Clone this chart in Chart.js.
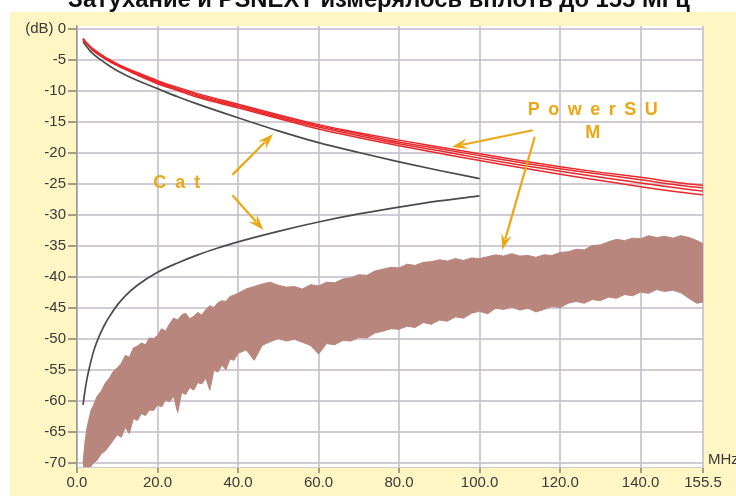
<!DOCTYPE html>
<html><head><meta charset="utf-8">
<script src="https://cdn.jsdelivr.net/npm/chart.js@4.4.1/dist/chart.umd.min.js"></script>
<style>html,body{margin:0;padding:0;background:#fff;overflow:hidden}#wrap{position:relative;width:736px;height:496px}</style>
</head><body><div id="wrap"><canvas id="c" width="736" height="496"></canvas></div>
<script>
const titleText = 'Затухание и PSNEXT измерялось вплоть до 155 МГц';
const xUnit = 'MHz';
const xTicks = [0, 20, 40, 60, 80, 100, 120, 140, 155.5];
const yTicks = [0, -5, -10, -15, -20, -25, -30, -35, -40, -45, -50, -55, -60, -65, -70];

// PowerSUM attenuation (4 pairs)
const redFreq = [1.5, 2, 3, 4, 6, 8, 10, 15, 20, 25, 30, 40, 50, 60, 70, 80, 90, 100, 110, 120, 130, 140, 150, 155.5];
const redA = [-1.5, -1.9, -2.6, -3.2, -4.1, -4.9, -5.6, -7.0, -8.3, -9.4, -10.4, -12.1, -13.8, -15.4, -16.7, -17.9, -19.0, -20.1, -21.2, -22.2, -23.1, -23.9, -24.8, -25.2];
const redB = [-1.6, -2.0, -2.7, -3.3, -4.2, -5.0, -5.7, -7.2, -8.5, -9.6, -10.6, -12.3, -14.0, -15.6, -16.9, -18.2, -19.3, -20.4, -21.5, -22.5, -23.4, -24.3, -25.2, -25.6];
const redC = [-1.6, -2.0, -2.7, -3.4, -4.3, -5.1, -5.8, -7.3, -8.6, -9.7, -10.8, -12.5, -14.2, -15.8, -17.2, -18.5, -19.6, -20.8, -21.9, -22.9, -23.9, -24.8, -25.7, -26.1];
const redD = [-1.7, -2.1, -2.8, -3.5, -4.4, -5.2, -5.9, -7.4, -8.8, -9.9, -11.0, -12.7, -14.4, -16.1, -17.5, -18.8, -20.0, -21.2, -22.3, -23.4, -24.4, -25.4, -26.3, -26.7];

// Cat limits
const catAttFreq = [1.5, 2, 3, 4, 6, 8, 10, 15, 20, 25, 30, 40, 50, 60, 70, 80, 90, 100];
const catAtt = [-2.0, -2.5, -3.3, -4.0, -5.0, -5.9, -6.7, -8.3, -9.6, -10.9, -12.1, -14.3, -16.4, -18.3, -19.9, -21.4, -22.8, -24.1];
const catNextFreq = [1.5, 2, 2.5, 3, 4, 5, 6, 7, 8, 10, 12, 15, 20, 25, 30, 35, 40, 50, 60, 70, 80, 90, 100];
const catNext = [-60.6, -58.2, -56.3, -54.8, -52.2, -50.3, -48.8, -47.5, -46.4, -44.5, -43.0, -41.3, -39.2, -37.7, -36.4, -35.3, -34.3, -32.6, -31.1, -29.8, -28.7, -27.7, -26.9];

// PowerSUM NEXT measurement band (upper / lower envelope)
const bandFreq = [1.5, 2, 2.5, 3, 3.5, 4, 5, 6, 7, 8, 9, 10, 11, 12, 13, 14, 15, 16, 17, 18, 19, 20, 21, 22, 23, 24, 25, 26, 27, 28, 29, 30, 31, 32, 33, 34, 35, 36, 37, 38, 39, 40, 42, 44, 46, 48, 50, 52, 54, 56, 58, 60, 62, 64, 66, 68, 70, 72, 74, 76, 78, 80, 82, 84, 86, 88, 90, 92, 94, 96, 98, 100, 102, 104, 106, 108, 110, 112, 114, 116, 118, 120, 122, 124, 126, 128, 130, 132, 134, 136, 138, 140, 142, 144, 146, 148, 150, 152, 154, 155.5];
const bandUpper = [-70, -66.5, -64.2, -62.8, -61.4, -60.8, -59.2, -58.4, -57.1, -56.3, -55.2, -54.6, -53.9, -52.6, -52.9, -51.4, -51.1, -50.6, -50.9, -49.8, -49.9, -49.4, -48.3, -48.7, -47.5, -46.6, -46.9, -46.1, -45.8, -46.7, -46.3, -45.7, -46.1, -45.2, -44.6, -44.9, -44.1, -43.8, -43.9, -43.1, -42.9, -42.6, -41.9, -41.5, -41.1, -40.8, -41.3, -41.6, -41.5, -41.9, -41.2, -41.4, -40.8, -40.9, -40.3, -40.1, -39.6, -39.7, -39.0, -38.7, -38.4, -38.5, -37.9, -38.1, -37.6, -37.5, -37.2, -37.4, -37.0, -37.3, -36.9, -37.0, -36.7, -36.4, -36.6, -36.2, -36.6, -36.5, -36.8, -36.4, -36.5, -36.0, -35.9, -35.5, -35.6, -34.9, -34.8, -34.3, -33.9, -34.1, -33.7, -33.8, -33.3, -33.6, -33.4, -33.7, -33.3, -33.6, -34.1, -34.6];
const bandLower = [-71, -71, -71, -71, -70.5, -70, -69.5, -68.5, -68, -67.2, -66.3, -65.4, -65.8, -64.2, -65.2, -62.8, -63.1, -62.0, -62.3, -61.4, -61.5, -60.6, -60.9, -59.8, -60.1, -59.2, -61.8, -58.6, -58.9, -57.8, -58.2, -57.0, -57.2, -56.3, -58.2, -55.0, -55.3, -54.2, -54.9, -53.2, -53.4, -52.3, -51.7, -53.4, -51.0, -50.4, -49.9, -50.3, -50.0, -50.5, -51.0, -52.4, -50.7, -50.9, -50.2, -50.3, -49.7, -49.8, -49.0, -48.7, -48.3, -48.4, -47.9, -48.1, -47.3, -47.6, -46.9, -47.1, -46.4, -46.6, -45.8, -45.5, -45.9, -45.0, -45.2, -44.8, -45.3, -45.0, -45.6, -45.2, -44.7, -44.9, -44.2, -43.9, -44.2, -43.6, -43.8, -43.2, -43.4, -42.8, -43.0, -42.4, -42.6, -42.0, -42.3, -42.1, -42.5, -43.4, -44.2, -44.0];

// annotation anchors in data units [MHz, dB]
const labelPower = ['PowerSU', 'M'];
const labelPowerPos = [[128.1, -13.1], [128.1, -16.8]];
const labelCat = 'Cat';
const labelCatPos = [24.8, -24.8];
const arrows = [
  [[113.2, -16.3], [93.1, -19.0]],
  [[113.7, -17.4], [105.6, -35.6]],
  [[38.6, -23.5], [48.7, -16.9]],
  [[38.6, -26.8], [46.3, -32.4]]
];

const toPts = (xs, ys) => xs.map((x, i) => ({x: x, y: ys[i]}));
const RED = '#e8282b';
const GRAY = '#4b4b4b';
const BROWN = 'rgb(184,134,124)';
const ORANGE = '#eba814';
const YELLOW = '#fff6c4';
const TICKFONT = {family: "'Liberation Sans', Arial, sans-serif", size: 15};

function redSet(ys) {
  return {data: toPts(redFreq, ys), borderColor: RED, borderWidth: 1.5, pointRadius: 0, cubicInterpolationMode: 'monotone', fill: false};
}

const datasets = [
  redSet(redA), redSet(redB), redSet(redC), redSet(redD),
  {data: toPts(catAttFreq, catAtt), borderColor: GRAY, borderWidth: 1.7, pointRadius: 0, cubicInterpolationMode: 'monotone', fill: false},
  {data: toPts(catNextFreq, catNext), borderColor: GRAY, borderWidth: 1.7, pointRadius: 0, cubicInterpolationMode: 'monotone', fill: false},
  {data: toPts(bandFreq, bandUpper), borderColor: BROWN, borderWidth: 1, pointRadius: 0, tension: 0, fill: false},
  {data: toPts(bandFreq, bandLower), borderColor: BROWN, borderWidth: 1, pointRadius: 0, tension: 0, fill: {target: '-1'}, backgroundColor: BROWN}
];

function spacedText(ctx, text, cx, cy, spacing) {
  let w = 0; const ws = [];
  for (const ch of text) { const m = ctx.measureText(ch).width; ws.push(m); w += m; }
  w += spacing * (ws.length - 1);
  let x = cx - w / 2; let i = 0;
  ctx.textAlign = 'left';
  for (const ch of text) { ctx.fillText(ch, x, cy); x += ws[i++] + spacing; }
}
function drawArrow(ctx, x1, y1, x2, y2) {
  const a = Math.atan2(y2 - y1, x2 - x1);
  const L = 14, H = 5.5;
  const bx = x2 - L * Math.cos(a), by = y2 - L * Math.sin(a);
  ctx.beginPath(); ctx.moveTo(x1, y1); ctx.lineTo(bx + 3 * Math.cos(a), by + 3 * Math.sin(a)); ctx.stroke();
  ctx.beginPath();
  ctx.moveTo(x2, y2);
  ctx.lineTo(bx - H * Math.sin(a) - 2 * Math.cos(a), by + H * Math.cos(a) - 2 * Math.sin(a));
  ctx.lineTo(bx + 4 * Math.cos(a), by + 4 * Math.sin(a));
  ctx.lineTo(bx + H * Math.sin(a) - 2 * Math.cos(a), by - H * Math.cos(a) - 2 * Math.sin(a));
  ctx.closePath(); ctx.fill();
}

const decor = {
  id: 'decor',
  beforeDraw(chart) {
    const ctx = chart.ctx, ca = chart.chartArea;
    ctx.save();
    ctx.fillStyle = '#ffffff'; ctx.fillRect(0, 0, chart.width, chart.height);
    ctx.fillStyle = YELLOW; ctx.fillRect(10, 12, chart.width - 10, chart.height - 12);
    ctx.fillStyle = '#ffffff'; ctx.fillRect(ca.left, ca.top, ca.right - ca.left, ca.bottom - ca.top);
    ctx.restore();
  },
  afterDraw(chart) {
    const ctx = chart.ctx, ca = chart.chartArea;
    const xs = chart.scales.x, ys = chart.scales.y;
    const px = v => xs.getPixelForValue(v), py = v => ys.getPixelForValue(v);
    ctx.save();
    // title (top is cut off by the frame)
    ctx.fillStyle = '#111';
    let fs = 19;
    ctx.font = 'bold ' + fs + "px 'Liberation Sans', Arial, sans-serif";
    const tw = ctx.measureText(titleText).width;
    fs = fs * 622 / tw;
    ctx.font = 'bold ' + fs.toFixed(2) + "px 'Liberation Sans', Arial, sans-serif";
    ctx.textAlign = 'center'; ctx.textBaseline = 'alphabetic';
    ctx.fillText(titleText, 379, 7);
    // unit label
    ctx.font = "15px 'Liberation Sans', Arial, sans-serif";
    ctx.fillStyle = '#3a3a3a'; ctx.textAlign = 'left'; ctx.textBaseline = 'middle';
    ctx.fillText(xUnit, ca.right + 5, ca.bottom - 7);
    // annotations
    ctx.fillStyle = ORANGE; ctx.strokeStyle = ORANGE; ctx.lineWidth = 2.2;
    ctx.font = "bold 18px 'Liberation Sans', Arial, sans-serif";
    ctx.textBaseline = 'middle';
    labelPower.forEach((t, i) => spacedText(ctx, t, px(labelPowerPos[i][0]), py(labelPowerPos[i][1]), 8.5));
    spacedText(ctx, labelCat, px(labelCatPos[0]), py(labelCatPos[1]), 9);
    arrows.forEach(a => drawArrow(ctx, px(a[0][0]), py(a[0][1]), px(a[1][0]), py(a[1][1])));
    ctx.restore();
  }
};

new Chart(document.getElementById('c'), {
  type: 'line',
  data: {datasets: datasets},
  plugins: [decor],
  options: {
    responsive: false, animation: false, devicePixelRatio: 1,
    layout: {padding: {left: 0, right: 33, top: 26, bottom: 0}},
    plugins: {legend: {display: false}, tooltip: {enabled: false}, title: {display: false}},
    scales: {
      x: {
        type: 'linear', min: 0, max: 155.5,
        afterBuildTicks: s => { s.ticks = xTicks.map(v => ({value: v})); },
        afterFit: s => { s.height = 29; },
        ticks: {autoSkip: false, maxRotation: 0, font: TICKFONT, color: '#3a3a3a', padding: 1, callback: v => Number(v).toFixed(1)},
        grid: {color: 'rgba(200,194,204,0.85)', lineWidth: 2, drawTicks: true, tickLength: 6, tickColor: '#444', tickWidth: 1},
        border: {display: true, color: 'rgba(200,194,204,0.85)', width: 1}
      },
      y: {
        type: 'linear', min: -70.6, max: 0.5,
        afterBuildTicks: s => { s.ticks = yTicks.map(v => ({value: v})); },
        afterFit: s => { s.width = 77; },
        ticks: {autoSkip: false, font: TICKFONT, color: '#3a3a3a', padding: 2, callback: v => (v === 0 ? '(dB) 0' : String(v))},
        grid: {color: 'rgba(200,194,204,0.85)', lineWidth: 2, drawTicks: true, tickLength: 9, tickColor: '#444', tickWidth: 1},
        border: {display: true, color: '#9a9a9a', width: 1.5}
      }
    }
  }
});
</script>
</body></html>
